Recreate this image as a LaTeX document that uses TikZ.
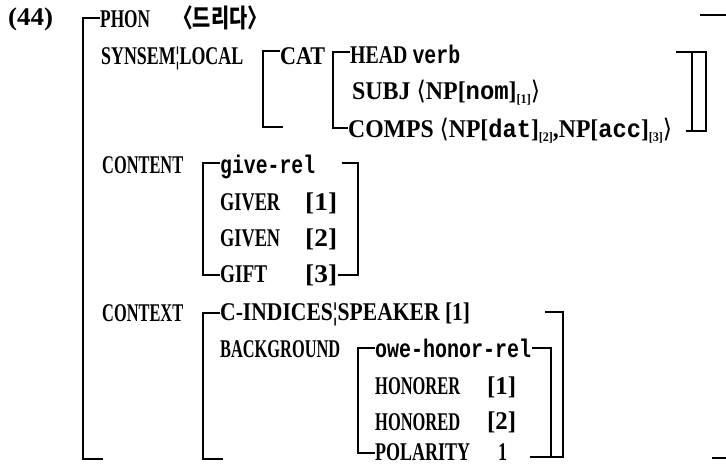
\documentclass[tikz,border=0pt]{standalone}
\usepackage{fontspec}
\usepackage{graphicx}
\setmainfont{Liberation Serif}
\newfontfamily\cjk{Noto Sans CJK KR}
\newfontfamily\mono{Liberation Mono}
\newfontfamily\dv{DejaVu Sans}
\newcommand\tw[2]{\resizebox{#1pt}{\height}{#2}}
\newcommand\lo{{\dv\mdseries ⟨}}
\newcommand\ro{{\dv\mdseries ⟩}}
\newcommand\sbx[1]{\raisebox{-3.5pt}{\fontsize{13}{13}\selectfont #1}}
\begin{document}
\begin{tikzpicture}[x=1pt,y=-1pt,
  lbl/.style={anchor=base west, inner sep=0pt, font=\fontsize{25.5}{25.5}\selectfont\bfseries},
  brk/.style={line width=1.8pt, line join=miter}]
\useasboundingbox (0,0) rectangle (726,470);
% labels
\node[lbl] (n44) at (8,26) {\tw{45}{(44)}};
\node[lbl] (phon) at (100,28) {\tw{50}{PHON}};
\node[lbl] (phonv) at (173,28) {\tw{94}{{\cjk 〈드리다〉}}};
\node[lbl] (synsem) at (101,65) {\tw{142}{SYNSEM¦LOCAL}};
\node[lbl] (cat) at (280,65) {\tw{45}{CAT}};
\node[lbl] (head) at (350,64) {\tw{110}{HEAD {\mono verb}}};
\node[lbl] (subj) at (352,100) {\tw{188}{SUBJ \lo NP[{\mono nom}]\sbx{[1]}\ro}};
\node[lbl] (comps) at (348,138) {\tw{324}{COMPS \lo NP[{\mono dat}]\sbx{[2]},NP[{\mono acc}]\sbx{[3]}\ro}};
\node[lbl] (content) at (102,174) {\tw{81}{CONTENT}};
\node[lbl] (giverel) at (220,174) {\tw{95}{\mono give-rel}};
\node[lbl] (giver) at (220,211) {\tw{60}{GIVER}};
\node[lbl] (giverv) at (305,211) {\tw{32}{[1]}};
\node[lbl] (given) at (220,247) {\tw{60}{GIVEN}};
\node[lbl] (givenv) at (305,247) {\tw{32}{[2]}};
\node[lbl] (gift) at (220,283) {\tw{47}{GIFT}};
\node[lbl] (giftv) at (305,283) {\tw{32}{[3]}};
\node[lbl] (context) at (102,322) {\tw{81}{CONTEXT}};
\node[lbl] (cind) at (220,321) {\tw{250}{C-INDICES¦SPEAKER [1]}};
\node[lbl] (bg) at (220,357) {\tw{120}{BACKGROUND}};
\node[lbl] (owe) at (375,357) {\tw{156}{\mono owe-honor-rel}};
\node[lbl] (honorer) at (375,395) {\tw{85}{HONORER}};
\node[lbl] (honorerv) at (487,395) {\tw{29}{[1]}};
\node[lbl] (honored) at (375,430) {\tw{85}{HONORED}};
\node[lbl] (honoredv) at (487,430) {\tw{29}{[2]}};
\node[lbl] (polarity) at (375,460) {\tw{95}{POLARITY}};
\node[lbl] (polv) at (498,460) {\tw{9}{1}};
% brackets
\draw[brk] (100,18) -- (83,18) -- (83,459) -- (103,459);
\draw[brk] (700,15) -- (726,15);
\draw[brk] (712,458) -- (726,458);
\draw[brk] (280,51) -- (263,51) -- (263,127) -- (283,127);
\draw[brk] (350,52) -- (333,52) -- (333,128) -- (348,128);
\draw[brk] (676,52) -- (706,52) -- (706,131) -- (686,131);
\draw[brk] (692,52) -- (692,131);
\draw[brk] (220,163) -- (203,163) -- (203,275) -- (220,275);
\draw[brk] (342,163) -- (358,163) -- (358,275) -- (338,275);
\draw[brk] (220,313) -- (203,313) -- (203,459) -- (223,459);
\draw[brk] (545,312) -- (563,312) -- (563,457) -- (530,457);
\draw[brk] (375,348) -- (358,348) -- (358,453) -- (375,453);
\draw[brk] (532,348) -- (551,348) -- (551,457);
\end{tikzpicture}
\end{document}
